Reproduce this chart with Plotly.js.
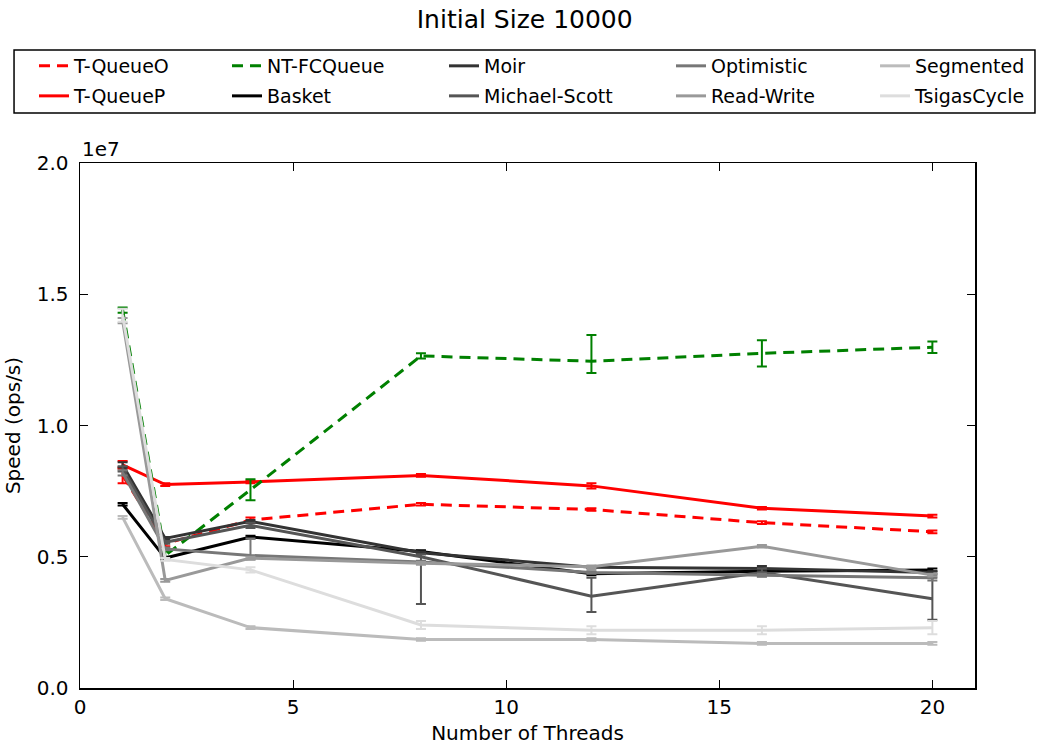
<!DOCTYPE html>
<html>
<head>
<meta charset="utf-8">
<script src="https://cdn.plot.ly/plotly-3.0.1.min.js"></script>
<style>html,body{margin:0;padding:0;background:#fff;}#chart{width:1037px;height:751px;}</style>
</head>
<body>
<div id="chart"></div>
<script>
// Thread counts
const threads = [1, 2, 4, 8, 12, 16, 20];

// Series names
const seriesNames = ["T-QueueO", "T-QueueP", "NT-FCQueue", "Basket", "Moir", "Michael-Scott", "Optimistic", "Read-Write", "Segmented", "TsigasCycle"];

// Mean speed (ops/s)
const tQueueO      = [8.1e6, 5.5e6, 6.4e6, 7.0e6, 6.8e6, 6.3e6, 5.95e6];
const tQueueP      = [8.5e6, 7.75e6, 7.85e6, 8.1e6, 7.7e6, 6.85e6, 6.55e6];
const ntFCQueue    = [14.4e6, 5.05e6, 7.55e6, 12.65e6, 12.45e6, 12.75e6, 12.98e6];
const basket       = [7.0e6, 4.95e6, 5.75e6, 5.2e6, 4.35e6, 4.45e6, 4.5e6];
const moir         = [8.5e6, 5.7e6, 6.35e6, 5.15e6, 4.6e6, 4.55e6, 4.4e6];
const michaelScott = [8.35e6, 5.55e6, 6.2e6, 5.0e6, 3.5e6, 4.4e6, 3.4e6];
const optimistic   = [8.2e6, 5.3e6, 5.05e6, 4.8e6, 4.4e6, 4.3e6, 4.2e6];
const readWrite    = [14.0e6, 4.1e6, 4.95e6, 4.75e6, 4.62e6, 5.4e6, 4.3e6];
const segmented    = [6.5e6, 3.4e6, 2.3e6, 1.85e6, 1.85e6, 1.7e6, 1.7e6];
const tsigasCycle  = [14.2e6, 4.9e6, 4.5e6, 2.4e6, 2.2e6, 2.2e6, 2.3e6];

// Error bars (upper / lower)
const tQueueOErrUp      = [0.3e6, 0.1e6, 0.1e6, 0.05e6, 0.05e6, 0.05e6, 0.05e6];
const tQueueOErrDown    = [0.3e6, 0.1e6, 0.1e6, 0.05e6, 0.05e6, 0.05e6, 0.05e6];
const tQueuePErrUp      = [0.15e6, 0.05e6, 0.05e6, 0.05e6, 0.1e6, 0.05e6, 0.05e6];
const tQueuePErrDown    = [0.15e6, 0.05e6, 0.05e6, 0.05e6, 0.1e6, 0.05e6, 0.05e6];
const ntFCQueueErrUp    = [0.1e6, 0.15e6, 0.4e6, 0.1e6, 1.0e6, 0.5e6, 0.22e6];
const ntFCQueueErrDown  = [0.1e6, 0.15e6, 0.4e6, 0.1e6, 0.45e6, 0.5e6, 0.22e6];
const basketErrUp       = [0.05e6, 0.05e6, 0.05e6, 0.05e6, 0.05e6, 0.05e6, 0.05e6];
const basketErrDown     = [0.05e6, 0.05e6, 0.05e6, 0.05e6, 0.05e6, 0.05e6, 0.05e6];
const moirErrUp         = [0.1e6, 0.05e6, 0.05e6, 0.05e6, 0.05e6, 0.1e6, 0.05e6];
const moirErrDown       = [0.1e6, 0.05e6, 0.05e6, 0.05e6, 0.05e6, 0.1e6, 0.05e6];
const michaelScottErrUp   = [0.1e6, 0.05e6, 0.1e6, 0.1e6, 0.7e6, 0.15e6, 0.8e6];
const michaelScottErrDown = [0.1e6, 0.05e6, 0.1e6, 1.8e6, 0.6e6, 0.15e6, 0.8e6];
const optimisticErrUp   = [0.1e6, 0.05e6, 0.65e6, 0.05e6, 0.05e6, 0.05e6, 0.1e6];
const optimisticErrDown = [0.1e6, 0.05e6, 0.15e6, 0.05e6, 0.05e6, 0.05e6, 0.1e6];
const readWriteErrUp    = [0.1e6, 0.05e6, 0.05e6, 0.05e6, 0.05e6, 0.05e6, 0.05e6];
const readWriteErrDown  = [0.1e6, 0.05e6, 0.05e6, 0.05e6, 0.05e6, 0.05e6, 0.05e6];
const segmentedErrUp    = [0.05e6, 0.05e6, 0.05e6, 0.05e6, 0.05e6, 0.05e6, 0.05e6];
const segmentedErrDown  = [0.05e6, 0.05e6, 0.05e6, 0.05e6, 0.05e6, 0.05e6, 0.05e6];
const tsigasErrUp       = [0.25e6, 0.05e6, 0.1e6, 0.15e6, 0.15e6, 0.15e6, 0.25e6];
const tsigasErrDown     = [0.25e6, 0.05e6, 0.1e6, 0.15e6, 0.15e6, 0.15e6, 0.25e6];

// Axis ticks
const xTickVals = [0, 5, 10, 15, 20];
const yTickVals = [0, 5e6, 1e7, 1.5e7, 2e7];
const yTickText = ["0.0", "0.5", "1.0", "1.5", "2.0"];

const values = [tQueueO, tQueueP, ntFCQueue, basket, moir, michaelScott, optimistic, readWrite, segmented, tsigasCycle];
const errUp = [tQueueOErrUp, tQueuePErrUp, ntFCQueueErrUp, basketErrUp, moirErrUp, michaelScottErrUp, optimisticErrUp, readWriteErrUp, segmentedErrUp, tsigasErrUp];
const errDown = [tQueueOErrDown, tQueuePErrDown, ntFCQueueErrDown, basketErrDown, moirErrDown, michaelScottErrDown, optimisticErrDown, readWriteErrDown, segmentedErrDown, tsigasErrDown];

const colors = ["#ff0000", "#ff0000", "#008000", "#000000", "#333333", "#555555", "#777777", "#999999", "#bbbbbb", "#dddddd"];
const dashes = ["11px,7px", "solid", "11px,7px", "solid", "solid", "solid", "solid", "solid", "solid", "solid"];
const legendIds = ["legend", "legend2", "legend", "legend2", "legend", "legend2", "legend", "legend2", "legend3", "legend4"];
const ranks = [1, 1, 2, 2, 3, 3, 4, 4, 1, 1];
const legendWidths = [148, 148, 172, 172, 182, 182, 159, 159, 130, 130];

const traces = seriesNames.map((name, i) => ({
  type: "scatter",
  mode: "lines",
  x: threads,
  y: values[i],
  name: name,
  legend: legendIds[i],
  legendrank: ranks[i],
  legendwidth: legendWidths[i],
  line: {color: colors[i], width: 3, dash: dashes[i]},
  error_y: {
    type: "data", symmetric: false,
    array: errUp[i], arrayminus: errDown[i],
    color: colors[i], thickness: 2, width: 5
  }
}));

const font = {family: "DejaVu Sans, sans-serif", color: "#000"};
const legendCommon = {
  orientation: "h", xanchor: "left", yanchor: "middle",
  x: -0.0514, bgcolor: "rgba(0,0,0,0)", borderwidth: 0,
  font: {family: font.family, size: 19, color: "#000"},
  itemwidth: 30, traceorder: "normal"
};
const row1Y = 1.1848, row2Y = 1.1276, col5X = 0.8883;

const layout = {
  width: 1037, height: 751,
  margin: {l: 80, r: 62, t: 163, b: 63, autoexpand: false},
  paper_bgcolor: "#fff", plot_bgcolor: "#fff",
  font: font,
  title: {text: "Initial Size 10000", font: {family: font.family, size: 25, color: "#000"}, x: 0.506, xanchor: "center", y: 0.975, yanchor: "middle"},
  showlegend: true,
  legend: Object.assign({}, legendCommon, {y: row1Y}),
  legend2: Object.assign({}, legendCommon, {y: row2Y}),
  legend3: Object.assign({}, legendCommon, {y: row1Y, x: col5X}),
  legend4: Object.assign({}, legendCommon, {y: row2Y, x: col5X}),
  xaxis: {
    range: [0, 21], tickvals: xTickVals, ticks: "inside", ticklen: 8, tickcolor: "#000",
    showline: true, linecolor: "#000", linewidth: 1.5, mirror: "ticks", showgrid: false, zeroline: false,
    tickfont: {family: font.family, size: 20, color: "#000"},
    title: {text: "Number of Threads", font: {family: font.family, size: 20, color: "#000"}, standoff: 8}
  },
  yaxis: {
    range: [0, 2e7], tickvals: yTickVals, ticktext: yTickText, ticks: "inside", ticklen: 8, tickcolor: "#000",
    showline: true, linecolor: "#000", linewidth: 1.5, mirror: "ticks", showgrid: false, zeroline: false,
    tickfont: {family: font.family, size: 20, color: "#000"}, ticklabelstandoff: 6,
    title: {text: "Speed (ops/s)", font: {family: font.family, size: 20, color: "#000"}, standoff: 10}
  },
  annotations: [{
    text: "1e7", xref: "paper", yref: "paper", x: 0, y: 1, xanchor: "left", yanchor: "bottom",
    showarrow: false, font: {family: font.family, size: 20, color: "#000"}
  }],
  shapes: [{
    type: "rect", xref: "paper", yref: "paper",
    x0: -0.0737, x1: 1.067, y0: 1.0952, y1: 1.2152,
    line: {color: "#000", width: 1.5}, fillcolor: "rgba(0,0,0,0)"
  }]
};

Plotly.newPlot("chart", traces, layout, {displayModeBar: false, staticPlot: true});
</script>
</body>
</html>
